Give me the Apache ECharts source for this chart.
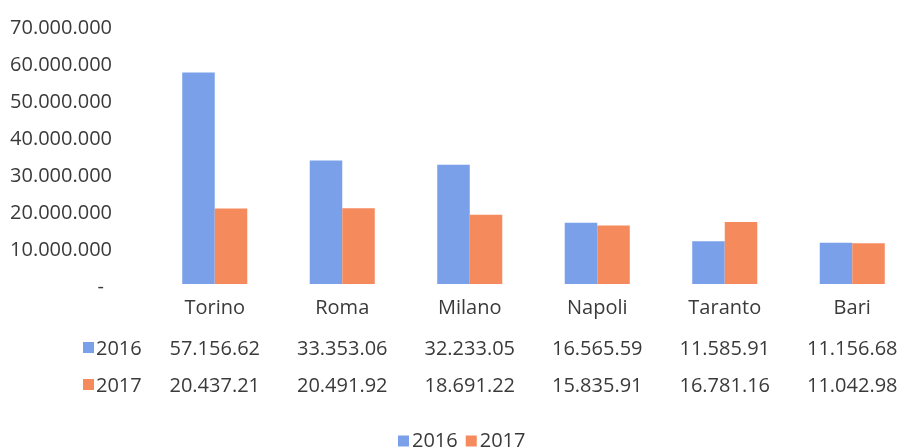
<!DOCTYPE html>
<html>
<head>
<meta charset="utf-8">
<script src="https://cdn.jsdelivr.net/npm/echarts@6/dist/echarts.min.js"></script>
<style>
  html, body { margin: 0; padding: 0; background: #fff; }
  #chart { width: 898px; height: 448px; }
</style>
</head>
<body>
<div id="chart"></div>
<script>
const cities = ['Torino', 'Roma', 'Milano', 'Napoli', 'Taranto', 'Bari']
const years = ['2016', '2017']
const values2016 = [57156620, 33353060, 32233050, 16565590, 11585910, 11156680]
const values2017 = [20437210, 20491920, 18691220, 15835910, 16781160, 11042980]
// table text as printed under the chart
const table2016 = ['57.156.62', '33.353.06', '32.233.05', '16.565.59', '11.585.91', '11.156.68']
const table2017 = ['20.437.21', '20.491.92', '18.691.22', '15.835.91', '16.781.16', '11.042.98']
const colors = ['#7aa0e9', '#f58a5d']

const font = 'Open Sans'
const textColor = '#3a3a3a'
const fontSize = 20

function dots(v) {
    return String(v).replace(/\B(?=(\d{3})+(?!\d))/g, '.')
}

function tableAxis(data, offset) {
    return {
        type: 'category',
        data: data,
        position: 'bottom',
        offset: offset,
        axisLine: { show: false },
        axisTick: { show: false },
        axisLabel: { margin: 14, color: textColor, fontFamily: font, fontSize: fontSize }
    }
}

function rowHeader(y, year, color) {
    return {
        type: 'group',
        children: [
            { type: 'rect', shape: { x: 83, y: y - 6, width: 11, height: 11 }, style: { fill: color } },
            { type: 'text', x: 96, y: y + 1, style: { text: year, fill: textColor, font: fontSize + 'px "' + font + '"', verticalAlign: 'middle' } }
        ]
    }
}

const chart = echarts.init(document.getElementById('chart'))
chart.setOption({
    animation: false,
    textStyle: { fontFamily: font },
    grid: { left: 151, top: 25, width: 765, height: 259, outerBoundsMode: 'none', containLabel: false },
    legend: {
        data: years,
        left: 393,
        top: 426,
        icon: 'rect',
        itemWidth: 11,
        itemHeight: 11,
        itemGap: 8,
        textStyle: { color: textColor, fontFamily: font, fontSize: fontSize, padding: [0, 0, 0, -2] }
    },
    xAxis: [
        tableAxis(cities, 0),
        tableAxis(table2016, 41),
        tableAxis(table2017, 78)
    ],
    yAxis: {
        type: 'value',
        min: 0,
        max: 70000000,
        interval: 10000000,
        axisLine: { show: false },
        axisTick: { show: false },
        splitLine: { show: false },
        axisLabel: {
            margin: 39,
            color: textColor,
            fontFamily: font,
            fontSize: fontSize,
            padding: [6, 0, 0, 0],
            formatter: v => v === 0 ? '{d|-}' : dots(v),
            rich: { d: { padding: [0, 8, 0, 0], color: textColor, fontSize: fontSize } }
        }
    },
    graphic: [
        rowHeader(348, years[0], colors[0]),
        rowHeader(385, years[1], colors[1])
    ],
    series: [
        {
            name: years[0], type: 'bar', xAxisIndex: 0, data: values2016,
            itemStyle: { color: colors[0] }, barGap: '0%', barCategoryGap: '49%'
        },
        {
            name: years[1], type: 'bar', xAxisIndex: 0, data: values2017,
            itemStyle: { color: colors[1] }, barGap: '0%', barCategoryGap: '49%'
        }
    ]
})
</script>
</body>
</html>
